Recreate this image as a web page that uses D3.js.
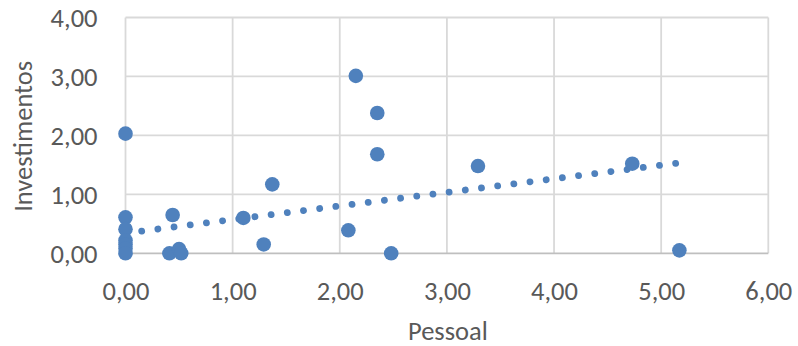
<!DOCTYPE html>
<html>
<head>
<meta charset="utf-8">
<script src="https://cdn.jsdelivr.net/npm/d3@7"></script>
<style>
  html, body { margin: 0; padding: 0; background: #fff; }
  svg { display: block; }
  text { font-family: Carlito, Calibri, Lato, sans-serif; fill: #595959; }
</style>
</head>
<body>
<svg id="chart" width="798" height="346"></svg>
<script>
// Data
const pessoal = [0, 0, 0, 0, 0, 0, 0, 0.41, 0.44, 0.50, 0.52, 1.10, 1.29, 1.37, 2.08, 2.15, 2.35, 2.35, 2.48, 3.29, 4.73, 5.17];
const investimentos = [2.03, 0.61, 0.41, 0.22, 0.15, 0.08, 0.0, 0.0, 0.65, 0.07, 0.0, 0.60, 0.15, 1.17, 0.39, 3.01, 2.38, 1.68, 0.0, 1.48, 1.52, 0.05];
// Linear trendline (as drawn in the reference): start / end
const trendX = [0, 5.17];
const trendY = [0.342, 1.534];
const xTicks = [0, 1, 2, 3, 4, 5, 6];
const yTicks = [0, 1, 2, 3, 4];
const xTitle = "Pessoal";
const yTitle = "Investimentos";

const svg = d3.select("#chart");
const m = { left: 125.5, right: 768.3, top: 17.5, bottom: 253.3 };
const x = d3.scaleLinear().domain([0, 6]).range([m.left, m.right]);
const y = d3.scaleLinear().domain([0, 4]).range([m.bottom, m.top]);
const fmt = d => d3.format(".2f")(d).replace(".", ",");
const blue = "#4F81BD";
const fs = 26.5;

// gridlines
svg.append("g").selectAll("line.v").data(xTicks).join("line")
  .attr("x1", d => x(d)).attr("x2", d => x(d))
  .attr("y1", m.top).attr("y2", m.bottom)
  .attr("stroke", "#d9d9d9").attr("stroke-width", 1.8);
svg.append("g").selectAll("line.h").data(yTicks.filter(d => d > 0)).join("line")
  .attr("x1", m.left).attr("x2", m.right)
  .attr("y1", d => y(d)).attr("y2", d => y(d))
  .attr("stroke", "#d9d9d9").attr("stroke-width", 1.8);
// bottom axis line
svg.append("line")
  .attr("x1", m.left).attr("x2", m.right)
  .attr("y1", y(0)).attr("y2", y(0))
  .attr("stroke", "#bfbfbf").attr("stroke-width", 1.8);

// axes labels via d3 axes
const xAxis = svg.append("g").attr("transform", `translate(0,${y(0)})`)
  .call(d3.axisBottom(x).tickValues(xTicks).tickFormat(fmt).tickSize(0).tickPadding(46.5));
const yAxis = svg.append("g").attr("transform", `translate(${x(0)},0)`)
  .call(d3.axisLeft(y).tickValues(yTicks).tickFormat(fmt).tickSize(0).tickPadding(28));
[xAxis, yAxis].forEach(g => {
  g.select(".domain").remove();
  g.selectAll("text").attr("font-size", fs).attr("fill", "#595959")
    .style("font-family", "Carlito, Calibri, Lato, sans-serif");
});
yAxis.selectAll("text").attr("dy", "0.35em");
xAxis.selectAll("text").attr("dy", "0");

// titles
svg.append("text").attr("x", (m.left + m.right) / 2 + 1).attr("y", 340)
  .attr("text-anchor", "middle").attr("font-size", fs).text(xTitle);
svg.append("text").attr("transform", `translate(32,${(m.top + m.bottom) / 2 + 1}) rotate(-90)`)
  .attr("text-anchor", "middle").attr("font-size", fs).text(yTitle);

// trendline (round dot)
svg.append("line")
  .attr("x1", x(trendX[0])).attr("y1", y(trendY[0]))
  .attr("x2", x(trendX[1])).attr("y2", y(trendY[1]))
  .attr("stroke", blue).attr("stroke-width", 6.8)
  .attr("stroke-linecap", "round").attr("stroke-dasharray", "0.01 16.3");

// points
svg.append("g").selectAll("circle").data(pessoal.map((p, i) => [p, investimentos[i]])).join("circle")
  .attr("cx", d => x(d[0])).attr("cy", d => y(d[1])).attr("r", 7.3)
  .attr("fill", blue);
</script>
</body>
</html>
